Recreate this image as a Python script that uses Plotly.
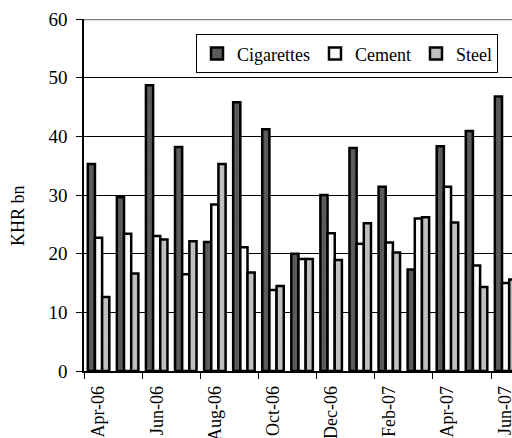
import plotly.graph_objects as go

months = ["Apr-06", "May-06", "Jun-06", "Jul-06", "Aug-06", "Sep-06", "Oct-06", "Nov-06",
          "Dec-06", "Jan-07", "Feb-07", "Mar-07", "Apr-07", "May-07", "Jun-07"]
cigarettes = [35.3, 29.6, 48.7, 38.2, 22.0, 45.8, 41.2, 20.0, 30.0, 38.0, 31.4, 17.3, 38.3, 40.9, 46.8]
cement = [22.7, 23.4, 23.0, 16.5, 28.4, 21.1, 13.8, 19.1, 23.5, 21.7, 21.9, 26.0, 31.4, 18.0, 15.0]
steel = [12.6, 16.6, 22.4, 22.1, 35.3, 16.8, 14.5, 19.1, 18.9, 25.2, 20.2, 26.2, 25.3, 14.3, 15.6]
y_ticks = [0, 10, 20, 30, 40, 50, 60]
y_title = "KHR bn"

idx = list(range(len(months)))
font = "Liberation Serif, Times New Roman, serif"

fig = go.Figure()
series = [("Cigarettes", cigarettes, "#565656", "#747474"),
          ("Cement", cement, "#ffffff", "#e4e4e4"),
          ("Steel", steel, "#c4c4c4", "#a8a8a8")]
for name, vals, col, fg in series:
    fig.add_trace(go.Bar(
        x=idx, y=vals, name=name,
        marker=dict(color=col, line=dict(color="black", width=2.5),
                    pattern=dict(shape=".", fgcolor=fg, bgcolor=col, size=3, solidity=0.3)),
    ))

fig.update_layout(
    width=512, height=438,
    margin=dict(l=84, r=0, t=19, b=67, autoexpand=False),
    paper_bgcolor="white", plot_bgcolor="white",
    barmode="group", bargap=0.26, bargroupgap=0,
    font=dict(family=font, size=18, color="black"),
    showlegend=True,
    legend=dict(orientation="h", x=(196 - 84) / 428, y=0.9565, xanchor="left", yanchor="top",
                bordercolor="black", borderwidth=1, bgcolor="white",
                font=dict(family=font, size=18, color="black"), itemwidth=30,
                traceorder="normal"),
    xaxis=dict(
        range=[-0.5, 14.22], showgrid=False, zeroline=False, automargin=False,
        showline=True, linecolor="black", linewidth=1.5,
        tickmode="array", tickvals=idx[::2], ticktext=months[::2],
        ticks="outside", ticklen=6, tickcolor="rgba(0,0,0,0)",
        tickangle=-90, tickfont=dict(family=font, size=18),
        ticklabeloverflow="allow",
        minor=dict(tickmode="array", tickvals=[i - 0.5 for i in idx[::2]],
                   ticks="outside", ticklen=6, tickcolor="black", tickwidth=1),
    ),
    yaxis=dict(
        range=[y_ticks[0], y_ticks[-1]], tickmode="array", tickvals=y_ticks,
        showgrid=True, gridcolor="black", gridwidth=1, zeroline=False, automargin=False,
        showline=True, linecolor="black", linewidth=1.5,
        ticks="outside", ticklen=6, tickcolor="black", ticklabelstandoff=5,
        tickfont=dict(family=font, size=19),
    ),
)

fig.add_shape(type="line", xref="paper", yref="y", x0=0, x1=1,
              y0=y_ticks[-1], y1=y_ticks[-1], line=dict(color="#808080", width=2.5))

fig.add_annotation(text=y_title, xref="paper", yref="paper", x=(18 - 84) / 428, y=0.44,
                   xanchor="center", yanchor="middle",
                   textangle=-90, showarrow=False, font=dict(family=font, size=18))

fig.write_html("out.html", config={"displayModeBar": False},
               post_script="document.body.style.margin='0';")
